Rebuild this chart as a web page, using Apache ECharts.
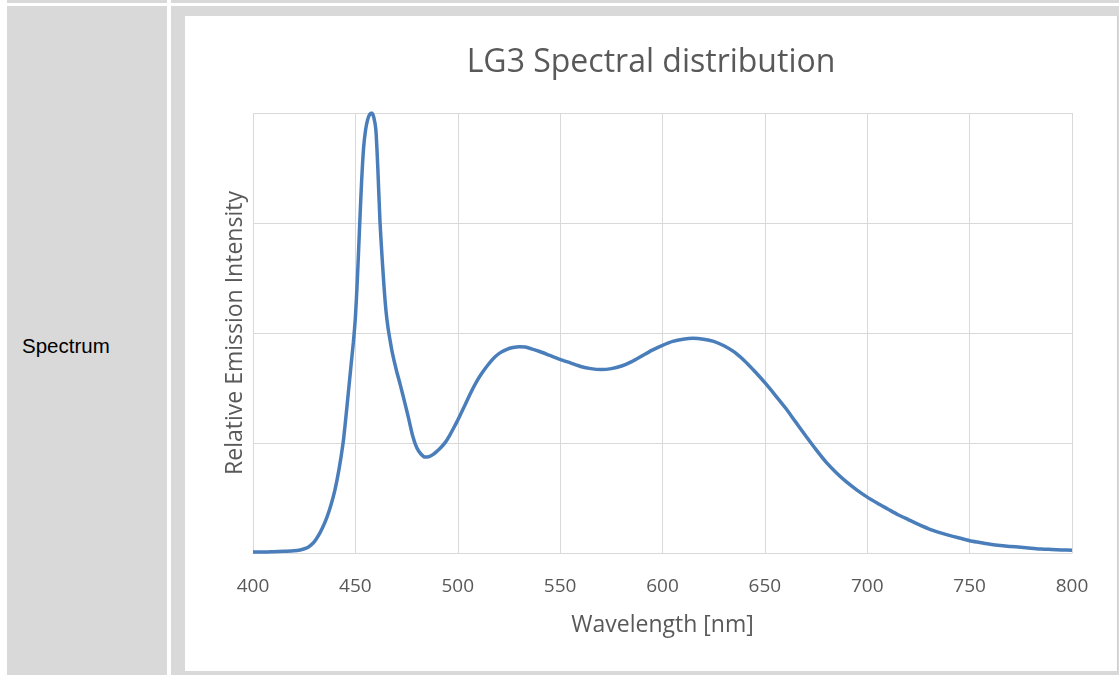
<!DOCTYPE html>
<html>
<head>
<meta charset="utf-8">
<script src="https://cdn.jsdelivr.net/npm/echarts@6/dist/echarts.min.js"></script>
<style>
	html, body { margin: 0; padding: 0; background: #fff; }
	body { width: 1119px; height: 675px; position: relative; overflow: hidden; font-family: "Liberation Sans", Arial, sans-serif; }
	.band { position: absolute; background: #d9d9d9; }
	#label { position: absolute; left: 22px; top: 334px; font-size: 20.5px; color: #000; }
	#chart { position: absolute; left: 185px; top: 16px; width: 932px; height: 655px; background: #fff; border-right: 1px solid #cfcfcf; }
</style>
</head>
<body>
<div class="band" style="left:7px;top:0;width:160px;height:3px"></div>
<div class="band" style="left:171px;top:0;width:948px;height:3px"></div>
<div class="band" style="left:7px;top:6px;width:160px;height:669px"></div>
<div class="band" style="left:171px;top:6px;width:948px;height:669px"></div>
<div id="label">Spectrum</div>
<div id="chart"></div>
<script>
// 波长 (nm)
var wavelength = [400, 405, 410, 415, 420, 423, 426, 428, 430, 432, 434, 436, 438, 440, 442, 444, 445, 446, 447, 448, 449,
	450, 451, 452, 453, 454, 455, 456, 457, 458, 459, 460, 461, 462, 463, 464, 465, 466, 467, 468, 470, 472, 474, 476, 478,
	480, 482, 484, 486, 488, 490, 492, 494, 496, 498, 500, 503, 506, 509, 512, 515, 518, 521, 524, 527, 530, 533, 536,
	540, 545, 550, 555, 560, 565, 570, 575, 580, 585, 590, 595, 600, 605, 610, 615, 620, 625, 630, 635, 640, 645, 650,
	655, 660, 665, 670, 675, 680, 685, 690, 695, 700, 705, 710, 715, 720, 725, 730, 735, 740, 745, 750, 755, 760, 765,
	770, 775, 780, 785, 790, 795, 800];
// 相对强度
var intensity = [0.002, 0.002, 0.003, 0.004, 0.005, 0.007, 0.011, 0.017, 0.026, 0.040, 0.058, 0.080, 0.108, 0.143, 0.190, 0.250, 0.292, 0.338, 0.385, 0.432, 0.478,
	0.535, 0.625, 0.735, 0.840, 0.920, 0.962, 0.985, 0.997, 1.000, 0.990, 0.962, 0.870, 0.755, 0.675, 0.605, 0.548, 0.510, 0.482, 0.456, 0.416, 0.381, 0.344, 0.306, 0.266,
	0.239, 0.225, 0.218, 0.219, 0.224, 0.232, 0.241, 0.252, 0.267, 0.284, 0.302, 0.331, 0.361, 0.388, 0.410, 0.429, 0.445, 0.456, 0.463, 0.467, 0.469, 0.468, 0.464,
	0.458, 0.449, 0.440, 0.432, 0.424, 0.419, 0.417, 0.419, 0.425, 0.435, 0.448, 0.461, 0.472, 0.481, 0.486, 0.488, 0.486, 0.481, 0.471, 0.457, 0.437, 0.413, 0.387,
	0.359, 0.330, 0.298, 0.266, 0.235, 0.206, 0.182, 0.161, 0.143, 0.127, 0.113, 0.100, 0.087, 0.076, 0.065, 0.055, 0.047, 0.040, 0.034, 0.028, 0.024, 0.020, 0.017,
	0.015, 0.013, 0.011, 0.009, 0.008, 0.007, 0.006];

var chart = echarts.init(document.getElementById('chart'));

var points = [];
for (var i = 0; i < wavelength.length; i++) {
	points.push([wavelength[i], intensity[i]]);
}

var font = '"Open Sans", "Noto Sans", sans-serif';

chart.setOption({
	animation: false,
	title: {
		text: 'LG3 Spectral distribution',
		left: 'center',
		top: 26,
		textStyle: { fontFamily: font, fontSize: 32, fontWeight: 'normal', color: '#595959' }
	},
	grid: { left: 68, right: 45, top: 97, bottom: 118 },
	xAxis: {
		type: 'value',
		min: 400,
		max: 800,
		interval: 50,
		name: 'Wavelength [nm]',
		nameLocation: 'middle',
		nameGap: 61,
		nameTextStyle: { fontFamily: font, fontSize: 23, color: '#595959' },
		axisLine: { lineStyle: { color: '#d9d9d9', width: 1 } },
		axisTick: { show: false },
		axisLabel: { fontFamily: font, fontSize: 19, color: '#595959', margin: 24 },
		splitLine: { show: true, lineStyle: { color: '#d9d9d9', width: 1 } }
	},
	yAxis: {
		type: 'value',
		min: 0,
		max: 1,
		interval: 0.25,
		name: 'Relative Emission Intensity',
		nameLocation: 'middle',
		nameGap: 6,
		nameTextStyle: { fontFamily: font, fontSize: 23, color: '#595959' },
		axisLine: { show: false },
		axisTick: { show: false },
		axisLabel: { show: false },
		splitLine: { show: true, lineStyle: { color: '#d9d9d9', width: 1 } }
	},
	series: [{
		type: 'line',
		data: points,
		showSymbol: false,
		smooth: 0.25,
		lineStyle: { color: '#4a7ebb', width: 3.5 },
		itemStyle: { color: '#4a7ebb' }
	}]
});
</script>
</body>
</html>
